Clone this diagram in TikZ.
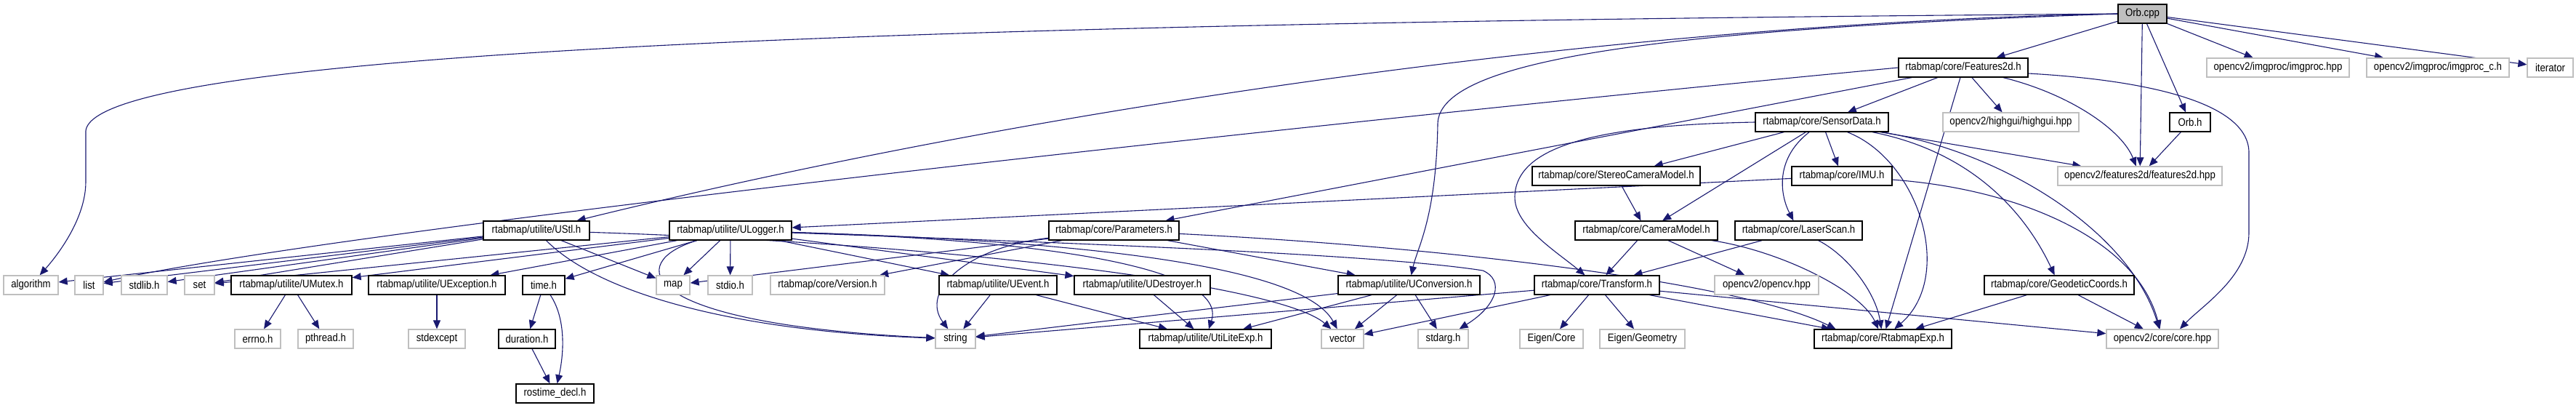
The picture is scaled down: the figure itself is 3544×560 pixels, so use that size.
\documentclass[tikz,border=0pt]{standalone}
\usepackage{fontspec}
\setmainfont{Liberation Sans}[FakeStretch=0.88]
\usepackage{tikz}
\usetikzlibrary{positioning,arrows.meta,backgrounds}
\usepackage{xcolor}
\definecolor{edgeblue}{RGB}{25,25,112}
\definecolor{sysgray}{RGB}{191,191,191}
\tikzset{
  anybox/.style={rectangle,minimum height=26pt,inner sep=0pt,line width=1.3pt,
                 font=\fontsize{15}{17}\selectfont},
  hdrbox/.style={anybox,draw=black,fill=white},
  sysbox/.style={anybox,draw=sysgray,fill=white},
  srcbox/.style={anybox,draw=black,fill=sysgray},
  dep/.style={draw=edgeblue,line width=1.1pt,-{Triangle[length=12pt,width=10pt]}}
}

\begin{document}
\begin{tikzpicture}[x=1pt,y=-1pt]
  \useasboundingbox (0,0) rectangle (3544,560);

  % row 0
  \node[srcbox,minimum width=67pt]  (orbcpp)     at (2947.5,19) {Orb.cpp};
  % row 1
  \node[hdrbox,minimum width=178pt] (features2d) at (2701,93)   {rtabmap/core/Features2d.h};
  \node[sysbox,minimum width=196pt] (imgproc)    at (3134,93)   {opencv2/imgproc/imgproc.hpp};
  \node[sysbox,minimum width=196pt] (imgprocc)   at (3354,93)   {opencv2/imgproc/imgproc\_c.h};
  \node[sysbox,minimum width=63pt]  (iterator)   at (3508.5,93) {iterator};
  % row 2
  \node[hdrbox,minimum width=183pt] (sensordata) at (2506.5,168) {rtabmap/core/SensorData.h};
  \node[sysbox,minimum width=187pt] (highgui)    at (2766.5,168) {opencv2/highgui/highgui.hpp};
  \node[hdrbox,minimum width=56pt]  (orbh)       at (3013,168)   {Orb.h};
  % row 3
  \node[hdrbox,minimum width=231pt] (stereo)     at (2223.5,242) {rtabmap/core/StereoCameraModel.h};
  \node[hdrbox,minimum width=138pt] (imu)        at (2534,242)   {rtabmap/core/IMU.h};
  \node[sysbox,minimum width=226pt] (feat2dhpp)  at (2944,242)   {opencv2/features2d/features2d.hpp};
  % row 4
  \node[hdrbox,minimum width=146pt] (ustl)       at (738,317)    {rtabmap/utilite/UStl.h};
  \node[hdrbox,minimum width=168pt] (ulogger)    at (1005,317)   {rtabmap/utilite/ULogger.h};
  \node[hdrbox,minimum width=179pt] (params)     at (1532.5,317) {rtabmap/core/Parameters.h};
  \node[hdrbox,minimum width=196pt] (cammodel)   at (2265,317)   {rtabmap/core/CameraModel.h};
  \node[hdrbox,minimum width=175pt] (laserscan)  at (2474.5,317) {rtabmap/core/LaserScan.h};
  % row 5
  \node[sysbox,minimum width=75pt]  (algorithm)  at (42.5,392)   {algorithm};
  \node[sysbox,minimum width=39pt]  (list)       at (122.5,392)  {list};
  \node[sysbox,minimum width=63pt]  (stdlib)     at (198.5,392)  {stdlib.h};
  \node[sysbox,minimum width=41pt]  (set)        at (274.5,392)  {set};
  \node[hdrbox,minimum width=166pt] (umutex)     at (401,392)    {rtabmap/utilite/UMutex.h};
  \node[hdrbox,minimum width=188pt] (uexception) at (601,392)    {rtabmap/utilite/UException.h};
  \node[hdrbox,minimum width=58pt]  (timeh)      at (748,392)    {time.h};
  \node[sysbox,minimum width=46pt]  (map)        at (926,392)    {map};
  \node[sysbox,minimum width=61pt]  (stdio)      at (1004.5,392) {stdio.h};
  \node[sysbox,minimum width=157pt] (version)    at (1138.5,392) {rtabmap/core/Version.h};
  \node[hdrbox,minimum width=162pt] (uevent)     at (1373,392)   {rtabmap/utilite/UEvent.h};
  \node[hdrbox,minimum width=187pt] (udestroyer) at (1571.5,392) {rtabmap/utilite/UDestroyer.h};
  \node[hdrbox,minimum width=195pt] (uconversion) at (1938.5,392) {rtabmap/utilite/UConversion.h};
  \node[hdrbox,minimum width=172pt] (transform)  at (2197,392)   {rtabmap/core/Transform.h};
  \node[sysbox,minimum width=143pt] (opencvhpp)  at (2430.5,392) {opencv2/opencv.hpp};
  \node[hdrbox,minimum width=206pt] (geodetic)   at (2833,392)   {rtabmap/core/GeodeticCoords.h};
  % row 6
  \node[sysbox,minimum width=63pt]  (errno)      at (354.5,466)  {errno.h};
  \node[sysbox,minimum width=76pt]  (pthread)    at (448,466)    {pthread.h};
  \node[sysbox,minimum width=78pt]  (stdexcept)  at (601,466)    {stdexcept};
  \node[hdrbox,minimum width=78pt]  (duration)   at (725,466)    {duration.h};
  \node[sysbox,minimum width=55pt]  (string)     at (1314.5,466) {string};
  \node[hdrbox,minimum width=181pt] (utiliteexp) at (1658.5,466) {rtabmap/utilite/UtiLiteExp.h};
  \node[sysbox,minimum width=58pt]  (vector)     at (1847,466)   {vector};
  \node[sysbox,minimum width=69pt]  (stdarg)     at (1985.5,466) {stdarg.h};
  \node[sysbox,minimum width=87pt]  (eigencore)  at (2134.5,466) {Eigen/Core};
  \node[sysbox,minimum width=117pt] (eigengeom)  at (2259.5,466) {Eigen/Geometry};
  \node[hdrbox,minimum width=189pt] (rtabmapexp) at (2590.5,466) {rtabmap/core/RtabmapExp.h};
  \node[sysbox,minimum width=154pt] (corehpp)    at (2975,466)   {opencv2/core/core.hpp};
  % row 7
  \node[hdrbox,minimum width=107pt] (rostime)    at (763.5,541)  {rostime\_decl.h};

  \begin{scope}[on background layer]
    % Orb.cpp
    \draw[dep] (orbcpp.west) .. controls (1500,30) and (130,60) .. (118,180)
               -- (118,250) .. controls (118,300) and (80,350) .. (algorithm);
    \draw[dep] (orbcpp.west) .. controls (2300,30) and (1500,130) .. (ustl);
    \draw[dep] (orbcpp.west) .. controls (2300,40) and (1980,80) .. (1978,170)
               .. controls (1976,300) and (1950,340) .. (uconversion);
    \draw[dep] (orbcpp) -- (features2d);
    \draw[dep] (orbcpp) -- (feat2dhpp);
    \draw[dep] (orbcpp) -- (orbh);
    \draw[dep] (orbcpp) -- (imgproc);
    \draw[dep] (orbcpp) -- (imgprocc);
    \draw[dep] (orbcpp) -- (iterator);
    \draw[dep] (orbh) -- (feat2dhpp);
    % Features2d.h
    \draw[dep] (features2d.west) .. controls (1900,160) and (500,310) .. (list);
    \draw[dep] (features2d) -- (params);
    \draw[dep] (features2d) -- (sensordata);
    \draw[dep] (features2d) -- (rtabmapexp);
    \draw[dep] (features2d) -- (highgui);
    \draw[dep] (features2d) .. controls (2850,130) and (2920,180) .. (feat2dhpp);
    \draw[dep] ([yshift=-8pt]features2d.east) .. controls (2950,110) and (3094,140) .. (3094,210)
               -- (3094,320) .. controls (3094,380) and (3030,420) .. ([xshift=24pt]corehpp.north);
    % SensorData.h
    \draw[dep] (sensordata.west) .. controls (2200,172) and (2086,200) .. (2084,270)
               .. controls (2083,310) and (2140,345) .. (transform);
    \draw[dep] (sensordata) -- (stereo);
    \draw[dep] (sensordata) -- (cammodel);
    \draw[dep] (sensordata) .. controls (2440,220) and (2450,270) .. (laserscan);
    \draw[dep] (sensordata) -- (imu);
    \draw[dep] (sensordata) .. controls (2640,220) and (2690,380) .. (rtabmapexp);
    \draw[dep] (sensordata) -- (feat2dhpp);
    \draw[dep] (sensordata) .. controls (2720,210) and (2790,300) .. (geodetic);
    \draw[dep] (sensordata) .. controls (2760,210) and (2930,320) .. (corehpp);
    % IMU.h, StereoCameraModel.h, CameraModel.h, LaserScan.h
    \draw[dep] (imu) .. controls (2780,260) and (2940,330) .. (corehpp);
    \draw[dep] (imu) -- (ulogger);
    \draw[dep] (stereo) -- (cammodel);
    \draw[dep] (cammodel) -- (transform);
    \draw[dep] (cammodel) -- (opencvhpp);
    \draw[dep] (cammodel) .. controls (2450,345) and (2560,400) .. (rtabmapexp);
    \draw[dep] (laserscan) -- (transform);
    \draw[dep] (laserscan) .. controls (2540,350) and (2580,400) .. (rtabmapexp);
    \draw[dep] (geodetic) -- (rtabmapexp);
    \draw[dep] (geodetic) -- (corehpp);
    % Transform.h
    \draw[dep] (transform) -- (string);
    \draw[dep] (transform) -- (vector);
    \draw[dep] (transform) -- (eigencore);
    \draw[dep] (transform) -- (eigengeom);
    \draw[dep] (transform) -- (rtabmapexp);
    \draw[dep] (transform) -- (corehpp);
    % Parameters.h
    \draw[dep] (params) -- (map);
    \draw[dep] (params) -- (version);
    \draw[dep] (params) .. controls (1330,340) and (1265,400) .. (string);
    \draw[dep] (params) -- (uconversion);
    \draw[dep] (params) .. controls (2000,340) and (2400,390) .. ([xshift=-65pt]rtabmapexp.north);
    % UStl.h
    \draw[dep] (ustl) -- (algorithm);
    \draw[dep] (ustl) -- (list);
    \draw[dep] (ustl) -- (stdlib);
    \draw[dep] (ustl) -- (set);
    \draw[dep] (ustl) -- (map);
    \draw[dep] (ustl) .. controls (1300,335) and (1760,390) .. (vector);
    \draw[dep] (ustl) .. controls (820,400) and (1000,455) .. (string);
    % ULogger.h
    \draw[dep] (ulogger) -- (set);
    \draw[dep] (ulogger) -- (umutex);
    \draw[dep] (ulogger) -- (uexception);
    \draw[dep] (ulogger) -- (timeh);
    \draw[dep] (ulogger) -- (map);
    \draw[dep] (ulogger) -- (stdio);
    \draw[dep] (ulogger) .. controls (860,360) and (870,445) .. (string);
    \draw[dep] (ulogger) -- (uevent);
    \draw[dep] (ulogger) -- (udestroyer);
    \draw[dep] (ulogger) .. controls (1450,330) and (1690,370) .. (utiliteexp);
    \draw[dep] (ulogger) .. controls (1450,330) and (1790,360) .. (vector);
    \draw[dep] (ulogger) .. controls (1500,335) and (1900,350) .. (2040,372)
               .. controls (2070,385) and (2060,420) .. (stdarg);
    % UConversion.h, UEvent.h, UDestroyer.h
    \draw[dep] (uconversion) -- (string);
    \draw[dep] (uconversion) -- (vector);
    \draw[dep] (uconversion) -- (utiliteexp);
    \draw[dep] (uconversion) -- (stdarg);
    \draw[dep] (uevent) -- (string);
    \draw[dep] (uevent) -- (utiliteexp);
    \draw[dep] (udestroyer) -- (utiliteexp);
    % UMutex.h, UException.h, time.h
    \draw[dep] (umutex) -- (errno);
    \draw[dep] (umutex) -- (pthread);
    \draw[dep] (uexception) -- (stdexcept);
    \draw[dep] (timeh) -- (duration);
    \draw[dep] (timeh) .. controls (780,440) and (775,490) .. (rostime);
    \draw[dep] (duration) -- (rostime);
  \end{scope}
\end{tikzpicture}
\end{document}
